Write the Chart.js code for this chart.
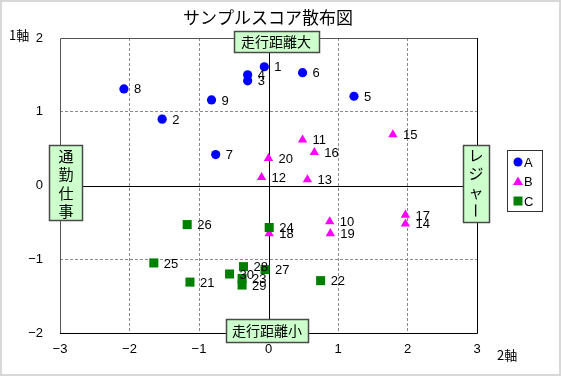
<!DOCTYPE html>
<html lang="ja">
<head>
<meta charset="UTF-8" />
<title>サンプルスコア散布図</title>
<script src="https://cdn.jsdelivr.net/npm/chart.js"></script>
<style>
  html, body { margin: 0; padding: 0; background: #fff; }
  canvas { display: block; }
</style>
</head>
<body>
<canvas id="chart" width="561" height="376"></canvas>
<script>
// series A (blue circles)
const aIds = [1, 2, 3, 4, 5, 6, 7, 8, 9];
const aX = [-0.06, -1.53, -0.30, -0.30, 1.23, 0.49, -0.76, -2.08, -0.82];
const aY = [1.61, 0.90, 1.42, 1.50, 1.21, 1.53, 0.42, 1.31, 1.16];

// series B (magenta triangles)
const bIds = [10, 11, 12, 13, 14, 15, 16, 17, 18, 19, 20];
const bX = [0.88, 0.49, -0.10, 0.56, 1.97, 1.79, 0.66, 1.97, 0.01, 0.89, 0.00];
const bY = [-0.49, 0.62, 0.11, 0.08, -0.52, 0.69, 0.45, -0.40, -0.65, -0.65, 0.37];

// series C (green squares)
const cIds = [21, 22, 23, 24, 25, 26, 27, 28, 29, 30];
const cX = [-1.13, 0.75, -0.38, 0.01, -1.65, -1.17, -0.05, -0.36, -0.38, -0.56];
const cY = [-1.31, -1.29, -1.26, -0.57, -1.05, -0.53, -1.14, -1.10, -1.35, -1.20];

const seriesNames = ['A', 'B', 'C'];
const xTicks = [-3, -2, -1, 0, 1, 2, 3];
const yTicks = [-2, -1, 0, 1, 2];
const titleText = 'サンプルスコア散布図';
const yAxisTitle = '1軸';
const xAxisTitle = '2軸';
const topLabel = '走行距離大';
const bottomLabel = '走行距離小';
const leftLabel = '通勤仕事';
const rightLabel = 'レジャー';

const JP = '"Noto Sans CJK JP", sans-serif';
const NUM = '"Liberation Sans", Arial, sans-serif';

function toPoints(xs, ys) {
  return xs.map((x, i) => ({ x: x, y: ys[i] }));
}

const ids = [aIds, bIds, cIds];

const decor = {
  id: 'decor',
  beforeDraw(chart) {
    const c = chart.ctx;
    c.save();
    c.fillStyle = '#fff';
    c.fillRect(0, 0, chart.width, chart.height);
    c.strokeStyle = '#d8d8d8';
    c.lineWidth = 2;
    c.strokeRect(1, 1, chart.width - 2, chart.height - 2);
    c.restore();
  },
  beforeDatasetsDraw(chart) {
    const c = chart.ctx;
    const a = chart.chartArea;
    const x0 = Math.round(chart.scales.x.getPixelForValue(0)) + 0.5;
    const y0 = Math.round(chart.scales.y.getPixelForValue(0)) + 0.5;
    c.save();
    c.strokeStyle = '#000';
    c.lineWidth = 1;
    c.beginPath();
    c.moveTo(x0, a.top); c.lineTo(x0, a.bottom);
    c.moveTo(a.left, y0); c.lineTo(a.right, y0);
    c.stroke();
    // frame
    c.strokeStyle = '#555';
    c.beginPath();
    c.moveTo(a.left + 0.5, a.bottom); c.lineTo(a.left + 0.5, a.top + 0.5); c.lineTo(a.right, a.top + 0.5);
    c.stroke();
    c.strokeStyle = '#000';
    c.beginPath();
    c.moveTo(a.left, a.bottom + 0.5); c.lineTo(a.right + 0.5, a.bottom + 0.5); c.lineTo(a.right + 0.5, a.top);
    c.stroke();
    c.restore();
  },
  afterDatasetsDraw(chart) {
    const c = chart.ctx;
    c.save();
    c.fillStyle = '#000';
    c.font = '13px ' + NUM;
    c.textAlign = 'left';
    c.textBaseline = 'middle';
    chart.data.datasets.forEach((ds, di) => {
      const meta = chart.getDatasetMeta(di);
      meta.data.forEach((el, i) => {
        c.fillText(String(ids[di][i]), el.x + 10, el.y + 1);
      });
    });
    c.restore();
  },
  afterDraw(chart) {
    const c = chart.ctx;
    const a = chart.chartArea;
    c.save();
    // title
    c.fillStyle = '#000';
    c.font = '17px ' + JP;
    c.textAlign = 'center';
    c.textBaseline = 'middle';
    c.fillText(titleText, 268, 18);
    // axis titles
    c.font = '13px ' + JP;
    c.textAlign = 'left';
    c.fillText(yAxisTitle, 9, 35);
    c.fillText(xAxisTitle, 497, 355);

    function box(x, y, w, h) {
      c.fillStyle = '#ccffcc';
      c.fillRect(x, y, w, h);
      c.strokeStyle = '#4a4a4a';
      c.lineWidth = 1.5;
      c.strokeRect(x + 0.5, y + 0.5, w, h);
      c.fillStyle = '#000';
    }
    c.font = '14px ' + JP;
    c.textAlign = 'center';
    c.textBaseline = 'middle';
    box(234, 31, 85, 21);
    c.fillText(topLabel, 276, 42);
    box(226, 319, 82, 23);
    c.fillText(bottomLabel, 267, 331);

    c.font = '15px ' + JP;
    box(49, 145, 33, 75);
    [...leftLabel].forEach((ch, i) => c.fillText(ch, 66, 156 + i * 18.5));
    box(463, 145, 26, 77);
    [...rightLabel].forEach((ch, i) => {
      const cy = 155 + i * 18.5;
      if (ch === 'ー') {
        c.save();
        c.translate(476, cy);
        c.rotate(Math.PI / 2);
        c.fillText(ch, 0, 0);
        c.restore();
      } else {
        c.fillText(ch, 476, cy);
      }
    });

    // legend
    c.strokeStyle = '#333';
    c.lineWidth = 1;
    c.fillStyle = '#fff';
    c.fillRect(507.5, 150.5, 35, 61);
    c.strokeRect(507.5, 150.5, 35, 61);
    c.font = '13px ' + NUM;
    c.textAlign = 'left';
    chart.data.datasets.forEach((ds, i) => {
      const ly = 162 + i * 19.5;
      const lx = 518;
      c.fillStyle = ds.backgroundColor;
      c.beginPath();
      if (i === 0) {
        c.arc(lx, ly, 4.5, 0, Math.PI * 2);
      } else if (i === 1) {
        c.moveTo(lx, ly - 5); c.lineTo(lx + 5, ly + 3.5); c.lineTo(lx - 5, ly + 3.5); c.closePath();
      } else {
        c.rect(lx - 4.5, ly - 4.5, 9, 9);
      }
      c.fill();
      c.fillStyle = '#000';
      c.fillText(ds.label, 524, ly + 1);
    });
    c.restore();
  }
};

const gridColor = ctx => {
  const v = ctx.tick ? ctx.tick.value : null;
  if (v === 0 || v === null) return 'rgba(0,0,0,0)';
  if (ctx.scale.axis === 'x' && (v === -3 || v === 3)) return 'rgba(0,0,0,0)';
  if (ctx.scale.axis === 'y' && (v === -2 || v === 2)) return 'rgba(0,0,0,0)';
  return '#8a8a8a';
};

const minus = v => String(v).replace('-', '−');

new Chart(document.getElementById('chart'), {
  type: 'scatter',
  data: {
    datasets: [
      { label: seriesNames[0], data: toPoints(aX, aY), backgroundColor: '#0000ff', borderColor: '#0000ff',
        pointStyle: 'circle', pointRadius: 4.6, borderWidth: 0, order: 2 },
      { label: seriesNames[1], data: toPoints(bX, bY), backgroundColor: '#ff00ff', borderColor: '#ff00ff',
        pointStyle: 'triangle', pointRadius: 5.4, borderWidth: 0, order: 1 },
      { label: seriesNames[2], data: toPoints(cX, cY), backgroundColor: '#008000', borderColor: '#008000',
        pointStyle: 'rect', pointRadius: 6.4, borderWidth: 0, order: 0 }
    ]
  },
  options: {
    responsive: false,
    devicePixelRatio: 1,
    animation: false,
    layout: { padding: { left: 0, right: 84, top: 38, bottom: 0 } },
    plugins: { legend: { display: false }, tooltip: { enabled: false }, title: { display: false } },
    scales: {
      x: {
        type: 'linear', min: -3, max: 3,
        afterBuildTicks: s => { s.ticks = xTicks.map(v => ({ value: v })); },
        afterFit: s => { s.height = 43; },
        grid: { color: gridColor, drawTicks: false, lineWidth: 1 },
        border: { display: false, dash: [3, 2] },
        ticks: { color: '#000', font: { size: 13, family: NUM }, padding: 9, callback: minus, maxRotation: 0 }
      },
      y: {
        type: 'linear', min: -2, max: 2,
        afterBuildTicks: s => { s.ticks = yTicks.map(v => ({ value: v })); },
        afterFit: s => { s.width = 60; },
        grid: { color: gridColor, drawTicks: false, lineWidth: 1 },
        border: { display: false, dash: [3, 2] },
        ticks: { color: '#000', font: { size: 13, family: NUM }, padding: 17, callback: minus }
      }
    }
  },
  plugins: [decor]
});
</script>
</body>
</html>
